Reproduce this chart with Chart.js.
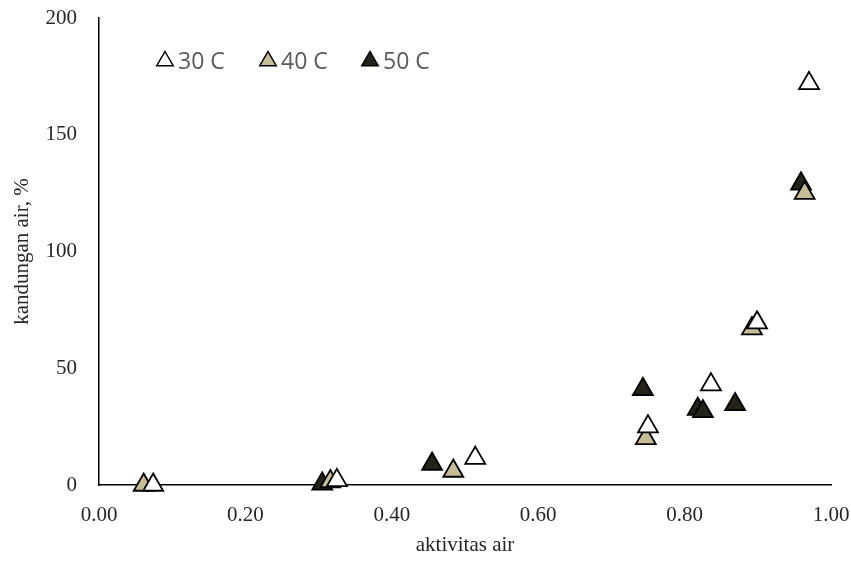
<!DOCTYPE html>
<html>
<head>
<meta charset="utf-8">
<script src="https://cdn.jsdelivr.net/npm/chart.js@4.4.0/dist/chart.umd.min.js"></script>
<style>
  body { margin: 0; background: #fff; }
</style>
</head>
<body>
<canvas id="isoterm" width="851" height="562"></canvas>
<script>
// aktivitas air (aw) vs kandungan air (%)
const seriesNames = ['30 C', '40 C', '50 C'];
const aw30 = [0.074, 0.325, 0.514, 0.750, 0.836, 0.899, 0.970];
const ka30 = [0, 2, 11.5, 25, 43, 69.5, 172];
const aw40 = [0.061, 0.316, 0.484, 0.747, 0.892, 0.964];
const ka40 = [0, 1.5, 6, 20, 67, 125];
const aw50 = [0.305, 0.455, 0.743, 0.818, 0.825, 0.869, 0.959];
const ka50 = [0.5, 9, 41, 32.5, 31.5, 34.5, 129];
const xTicks = [0, 0.2, 0.4, 0.6, 0.8, 1.0];
const yTicks = [0, 50, 100, 150, 200];

const fills = ['#ffffff', '#c4bd97', '#24231a'];

function pts(xs, ys) {
	return xs.map((x, i) => ({x: x, y: ys[i]}));
}

function ds(label, data, fill) {
	return {
		label: label,
		data: data,
		pointStyle: 'triangle',
		pointRadius: 11.5,
		pointHoverRadius: 11.5,
		backgroundColor: fill,
		borderColor: '#000',
		borderWidth: 1.8,
		clip: false
	};
}

// legend sits inside the plot, top left
const insideLegend = {
	id: 'insideLegend',
	afterDraw(chart) {
		const ctx = chart.ctx;
		const spots = [165, 268, 370];
		const cy = 61;
		ctx.save();
		chart.data.datasets.forEach((d, i) => {
			const cx = spots[i], r = 9.5;
			ctx.beginPath();
			ctx.moveTo(cx, cy - r);
			ctx.lineTo(cx + r * 0.866, cy + r * 0.5);
			ctx.lineTo(cx - r * 0.866, cy + r * 0.5);
			ctx.closePath();
			ctx.fillStyle = d.backgroundColor;
			ctx.fill();
			ctx.lineWidth = 1.5;
			ctx.strokeStyle = '#000';
			ctx.stroke();
			ctx.fillStyle = '#595959';
			ctx.font = '23px "Open Sans"';
			ctx.textBaseline = 'middle';
			ctx.textAlign = 'left';
			ctx.fillText(d.label, cx + 13, cy + 1);
		});
		ctx.restore();
	}
};

const serif = {family: '"Liberation Serif", "Times New Roman", serif', size: 21};

new Chart(document.getElementById('isoterm'), {
	type: 'scatter',
	data: {
		datasets: [
			ds(seriesNames[0], pts(aw30, ka30), fills[0]),
			ds(seriesNames[1], pts(aw40, ka40), fills[1]),
			ds(seriesNames[2], pts(aw50, ka50), fills[2])
		]
	},
	options: {
		responsive: false,
		animation: false,
		layout: {autoPadding: false, padding: {top: 18, right: 20, bottom: 0, left: 0}},
		plugins: {
			legend: {display: false},
			tooltip: {enabled: false}
		},
		scales: {
			x: {
				min: 0, max: 1,
				afterBuildTicks: (s) => { s.ticks = xTicks.map(v => ({value: v})); },
				afterFit: (s) => {
					s.height = 77;
					s.paddingLeft = 0;
					s.paddingRight = 0;
				},
				grid: {display: false, drawTicks: false},
				border: {display: true, color: '#000', width: 1.5},
				ticks: {
					padding: 18,
					color: '#262626',
					font: serif,
					maxRotation: 0,
					callback: (v) => Number(v).toFixed(2)
				},
				title: {
					display: true,
					text: 'aktivitas air',
					color: '#262626',
					font: serif,
					padding: {top: 4, bottom: 4}
				}
			},
			y: {
				min: 0, max: 200,
				afterBuildTicks: (s) => { s.ticks = yTicks.map(v => ({value: v})); },
				afterFit: (s) => {
					s.width = 99;
					s.paddingTop = 0;
					s.paddingBottom = 0;
				},
				grid: {display: false, drawTicks: false},
				border: {display: true, color: '#000', width: 1.5},
				ticks: {
					padding: 22,
					color: '#262626',
					font: serif
				},
				title: {
					display: true,
					text: 'kandungan air, %',
					color: '#262626',
					font: serif,
					padding: {top: 10, bottom: 0}
				}
			}
		}
	},
	plugins: [insideLegend]
});
</script>
</body>
</html>
